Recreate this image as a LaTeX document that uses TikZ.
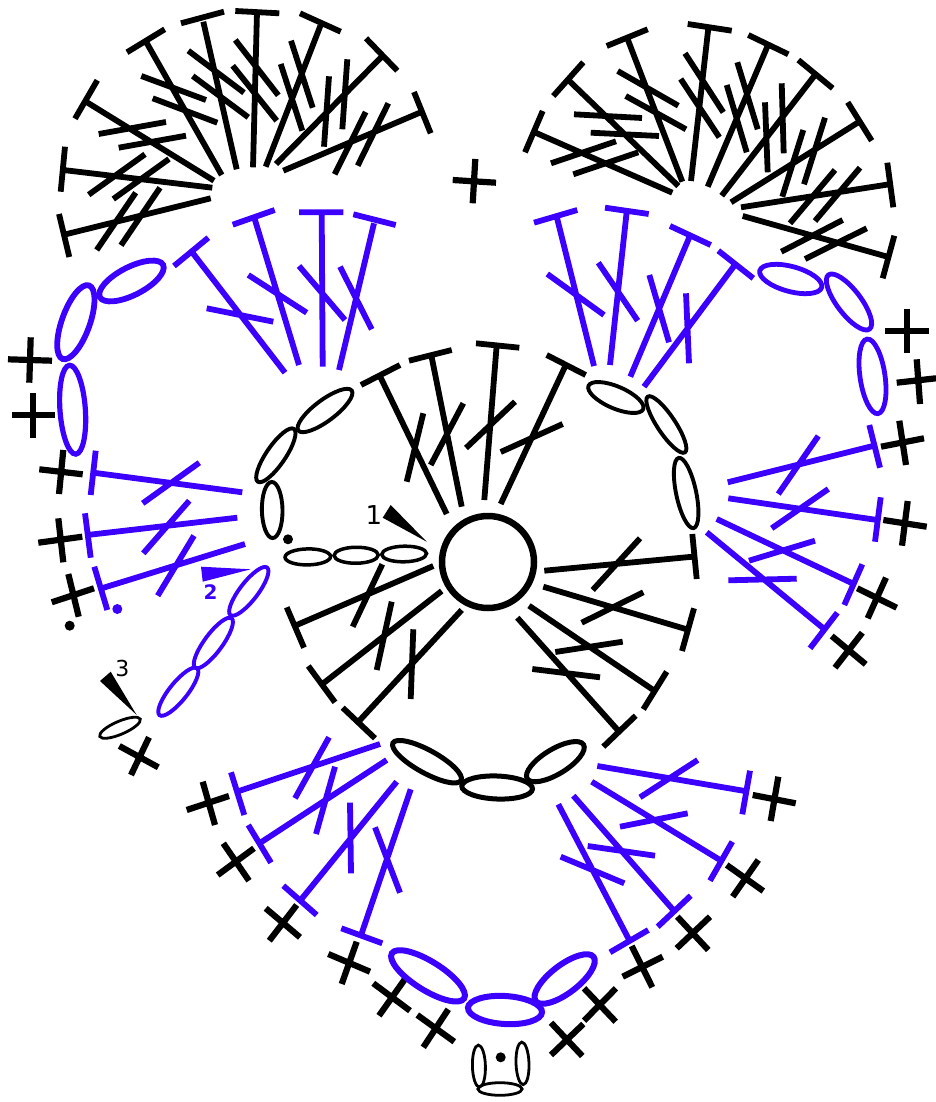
\documentclass[tikz,border=0pt]{standalone}
\usepackage{fontspec}
\setmainfont{DejaVu Sans}
\definecolor{cblue}{RGB}{60,0,255}
\tikzset{
  blk/.style={draw=black,line width=5.8pt},
  blu/.style={draw=cblue,line width=5.8pt},
  cro/.style={draw=black,line width=6.2pt},
  dotk/.style={fill=black,draw=none},
  dotb/.style={fill=cblue,draw=none},
  tag/.style={inner sep=0pt}
}
\newcommand{\Ell}[7]{%
  \pgfmathsetmacro\ecx{(#1+#3)/2}%
  \pgfmathsetmacro\ecy{(#2+#4)/2}%
  \pgfmathsetmacro\eang{atan2(-(#4-#2),(#3-#1))}%
  \pgfmathsetmacro\ea{veclen(#3-#1,#4-#2)/2-#6/2}%
  \draw[draw=#7,line width=#6pt,shift={(\ecx,\ecy)},rotate=\eang] (0,0) circle [x radius=\ea pt,y radius=#5pt];%
}
\begin{document}
\begin{tikzpicture}[x=1pt,y=-1pt]
\useasboundingbox (0,0) rectangle (936,1102);
% top-left fan
\draw[blk] (210.7,198.3)--(65.7,234.3) (59,214)--(69.3,257) (135.7,192.7)--(96.7,250) (160,187.7)--(121,245.3);
\draw[blk] (212.3,187.7)--(63.3,170) (65,146.7)--(60.7,191.7) (145,154.3)--(88.7,194.7) (169,159)--(113.3,199);
\draw[blk] (214,180.7)--(86,101.7) (97.3,80.3)--(75,118.7) (166,122)--(98.7,134) (186,135.7)--(118.7,147.7);
\draw[blk] (221.7,175)--(146,41.7) (164.7,29.3)--(127,52.3) (141.3,76)--(206,100) (152.7,98.3)--(217.3,122.7);
\draw[blk] (236.7,169.3)--(203.3,21.7) (181,23.3)--(224,11.7) (188.3,50.7)--(244,92.7) (192.7,76)--(248.3,117.3);
\draw[blk] (253,167.3)--(257,11.7) (235.3,11)--(279.3,13.3) (235.3,40)--(278.3,95.3) (232.7,65.7)--(276.7,120.7);
\draw[blk] (265.7,166.7)--(320.3,26) (300,13.3)--(340.7,31.7) (291,40.7)--(312.7,107.7) (280.7,64)--(302.3,130.7);
\draw[blk] (276,164)--(381.7,56.7) (366,38.3)--(397.3,70.7) (347.3,59.3)--(342.3,129.3) (329,76.3)--(324,146.7);
\draw[blk] (283.3,170.7)--(420.7,112.3) (414,92)--(430.7,133.3) (388.3,103.3)--(357.7,165.7) (365.7,112)--(334.7,174.3);
% top-left blue fan
\draw[blu] (285,372.7)--(191.7,251.7) (208.3,237.7)--(174,266) (206.7,308.3)--(273.3,321.7);
\draw[blu] (299,365)--(255,220) (274.7,210)--(232.7,224.7) (248.3,275)--(306.7,312.7);
\draw[blu] (322.7,366.7)--(321.7,212.3) (299,212.3)--(343.3,212.3) (299,266)--(345,320);
\draw[blu] (339,370)--(374,223.3) (353.3,214.3)--(395.7,225) (340,266.7)--(371.7,329.3);
% top-right fan
\draw[blk] (672.3,192.7)--(533.3,131.7) (542.7,111)--(525,152.3) (616,141.3)--(551,163.3) (638.3,152.3)--(573.3,174.3);
\draw[blk] (678.3,186)--(568.3,80) (583.3,62.3)--(553.3,96) (574,114.3)--(642,118) (590.7,132.7)--(659,136);
\draw[blk] (682.3,181.7)--(627.3,38.3) (647.7,29.3)--(606.7,46) (617.7,71)--(678.3,105.7) (625.7,96)--(686,129.3);
\draw[blk] (691,181)--(708.3,28.3) (687.7,24)--(731.7,30.7) (685,53.3)--(723.3,112.3) (680.7,79)--(719.3,137.3);
\draw[blk] (707.7,186.7)--(767.3,46.7) (748.3,35)--(788.3,54.3) (737.3,62.3)--(757.7,129.3) (726.7,85)--(746.7,152.3);
\draw[blk] (721.7,195.7)--(815,75) (798.3,60)--(832.7,88.3) (781.7,83.3)--(783.7,153.3) (765,102.3)--(767.7,172.3);
\draw[blk] (731,202.3)--(858.3,122.3) (847.7,102.3)--(871.7,140.7) (825,117.7)--(804,184.3) (803.3,130)--(782.3,196.7);
\draw[blk] (741,207.3)--(889.3,184.3) (887.3,162.7)--(893.3,207.3) (860,167.7)--(815,221) (835,170)--(790,223.3);
\draw[blk] (742.7,216)--(887.3,256.7) (894.3,235.7)--(882.7,278.3) (866.7,228.3)--(805,259) (842.7,220)--(781.3,251.7);
% top-right blue fan
\draw[blu] (594,366)--(556.7,216.7) (534,222.7)--(577.3,210) (547.3,274)--(604,315);
\draw[blu] (610,365)--(626.7,211.7) (605,207.7)--(648.7,214) (598.3,262.7)--(637.7,320.7);
\draw[blu] (630.3,376.7)--(690,235.7) (670,226)--(710.7,245) (649.3,275)--(669,342.3);
\draw[blu] (644,386.7)--(734.3,265.7) (718.3,250.7)--(753.3,278.3) (686,293.3)--(689,363.3);
% left blue fan
\draw[blu] (242.3,492.3)--(93.3,472.7) (95.7,450.7)--(90.7,495) (199.3,462.7)--(142.7,503.3);
\draw[blu] (237.3,517.7)--(87.3,535) (85,513.3)--(90.7,557.7) (189.3,500.7)--(143.3,553.3);
\draw[blu] (245,544)--(101.7,588.3) (94.3,566.7)--(107.3,610) (194,535.7)--(157.7,595.7);
% right blue fan
\draw[blu] (727.7,482.3)--(874,445.7) (869.3,425)--(880,467.7) (818.3,436)--(778.3,494);
\draw[blu] (728.3,498.3)--(877.3,520) (880.7,497.3)--(875,541.7) (828.3,489)--(771.7,528.3);
\draw[blu] (716.7,519)--(852.3,583.3) (862.3,564.3)--(844.3,605) (815,540.7)--(749,560.7);
\draw[blu] (706.7,532.3)--(823.3,628.3) (837.3,612.7)--(810,648.3) (796.7,578.7)--(728.3,580.3);
% centre: top fan
\draw[blk] (446.7,514)--(381,378.3) (400,365)--(361,385) (423.3,413.3)--(406.7,481.7);
\draw[blk] (461.7,506.7)--(431.7,357.3) (409,360.7)--(451.7,350) (463.3,403.3)--(430.7,465);
\draw[blk] (484.3,500)--(496.7,345) (476,343.3)--(519.3,347.7) (515,401.7)--(466,448);
\draw[blk] (500.7,504)--(565,366.7) (546.7,355)--(585.7,375) (562.7,424)--(500.7,452);
% centre: right fan
\draw[blk] (544.3,570.7)--(692.7,556.7) (692.3,534)--(696.7,579) (640,538.3)--(592.7,590);
\draw[blk] (543.3,586.7)--(686.7,629.3) (694,608.3)--(682,651) (643.3,592.3)--(581.7,622.7);
\draw[blk] (529,605.7)--(653.3,690) (666.7,671.7)--(643.3,709.3) (622.7,641.7)--(555.3,652);
\draw[blk] (517.3,617.7)--(617.7,730) (635.7,715.7)--(603.3,746.7) (532.3,669)--(600,677.3);
% centre: lower-left fan
\draw[blk] (433.3,566)--(296.7,625) (286.7,607.3)--(304,647.7) (382.3,564.3)--(352.7,626.7);
\draw[blk] (441.7,591)--(323.3,683.3) (308.3,666)--(335,702.3) (391.7,601.7)--(376.7,670);
\draw[blk] (461.7,610)--(360,720) (342.7,707.7)--(375,738.3) (413.3,629.3)--(410.7,699);
% bottom blue fans
\draw[blu] (380,744)--(239,791) (231,772.3)--(244.3,815) (329,737.3)--(295,798.3);
\draw[blu] (386.7,760)--(261,842.3) (248.3,825)--(271,862.7) (335,766.7)--(316,834);
\draw[blu] (396.7,781.7)--(300.7,900) (283.3,885.7)--(316.7,915) (350,802.7)--(351,873.3);
\draw[blu] (410.7,789.3)--(361.7,933.3) (341.3,928.3)--(382.3,943.3) (375,827.3)--(400,892.7);
\draw[blu] (597.3,766)--(745,791) (750,770.7)--(742.3,814.3) (697.7,760)--(640,797.3);
\draw[blu] (591.7,781.7)--(720,860) (732.3,841.7)--(710,880.7) (687.7,813.3)--(620,826.7);
\draw[blu] (573.3,795.7)--(673.3,910) (690.7,895.7)--(657.7,926.7) (655,855.7)--(587.7,846);
\draw[blu] (558.3,804.3)--(628.3,938.3) (648.3,930)--(610,952.3) (560.7,856.7)--(624.3,883.3);
% crosses
\draw[cro] (452.7,180)--(496,182.7) (475.3,159)--(472.7,203.3);
\draw[cro] (8,359.3)--(52,360.7) (30.7,337.3)--(29.3,382.7);
\draw[cro] (11.7,415)--(55.3,415) (33.3,393.3)--(33.3,437.7);
\draw[cro] (39.3,469.3)--(82.7,474.3) (63.3,450)--(59,494);
\draw[cro] (38.3,542.7)--(82.3,536.7) (58.3,518.3)--(63.3,562.3);
\draw[cro] (51.7,602.3)--(94,588.3) (68.3,574)--(78.7,616.7);
\draw[cro] (119.3,746)--(158.3,767.3) (149,737.3)--(131,775);
\draw[cro] (885,330.7)--(929.3,330.7) (907.3,308.7)--(907.3,353.3);
\draw[cro] (896.7,382.7)--(936,378.3) (916.7,359.3)--(920,404);
\draw[cro] (881,446.7)--(924,438.3) (899.3,420.7)--(906,465);
\draw[cro] (883.3,520)--(926.7,526.7) (907.7,501)--(902,545.7);
\draw[cro] (857.3,588.3)--(896.7,607.7) (886,577.7)--(867.7,618.3);
\draw[cro] (831.7,636)--(865.7,664.3) (862.3,632.7)--(835,667.7);
\draw[cro] (186.7,810)--(229,796) (202.7,781.7)--(215,825);
\draw[cro] (217.7,875)--(254,848.3) (223.3,843.3)--(249,880.7);
\draw[cro] (265.7,908.3)--(300,937.3) (269.3,940.7)--(296.7,905);
\draw[cro] (328.3,954)--(370,971.7) (356.7,941.7)--(341.7,984);
\draw[cro] (373.3,983.3)--(410,1010.7) (405,979)--(379,1015.7);
\draw[cro] (417.3,1015)--(454.3,1041.7) (448.3,1009.3)--(423.3,1047.3);
\draw[cro] (752.7,795)--(795.7,803.3) (778.3,776.7)--(770.7,821);
\draw[cro] (726.7,865)--(763.3,891) (758.3,860)--(732.7,896.7);
\draw[cro] (677.3,916.7)--(708.3,950) (710,916.7)--(676.7,948.3);
\draw[cro] (622.7,976.7)--(662.7,956.7) (631.7,946)--(652.3,987.3);
\draw[cro] (584,988.3)--(615.7,1021.7) (616,988.3)--(584,1020.7);
\draw[cro] (551,1022.7)--(582.3,1056) (583.3,1024)--(551,1055);
% centre ring
\node[circle,draw=black,line width=6.5pt,minimum size=92pt,inner sep=0pt,outer sep=0pt] (ring) at (488,562) {};
% blue chain ellipses
\Ell{97.3}{298.5}{165.7}{263.5}{14}{5.8}{cblue}
\Ell{90}{282.7}{61.7}{361.7}{14}{5.8}{cblue}
\Ell{69.3}{362.7}{76}{456.7}{12.7}{5.2}{cblue}
\Ell{757.5}{270}{824}{288}{12.5}{4.8}{cblue}
\Ell{827}{273}{871}{331}{12}{4.8}{cblue}
\Ell{866.7}{336.7}{878.3}{416}{12.5}{4.8}{cblue}
\Ell{268.3}{566}{229.3}{616.7}{9}{3.9}{cblue}
\Ell{232.7}{616.7}{194}{669.3}{9}{3.9}{cblue}
\Ell{198.3}{666.7}{158.3}{716.7}{9}{3.9}{cblue}
\Ell{389.3}{951.7}{466.7}{1000}{14.4}{6}{cblue}
\Ell{465}{1007.5}{545}{1012.5}{14}{6}{cblue}
\Ell{533.3}{1003}{596}{955}{14}{6}{cblue}
% black chain ellipses
\Ell{353.3}{389.3}{296.7}{431.7}{10.5}{3.9}{black}
\Ell{295}{427.3}{256.7}{483.3}{9.5}{3.9}{black}
\Ell{271.7}{480}{272.7}{540}{10.3}{3.9}{black}
\Ell{283.3}{557.3}{332.3}{556.5}{8}{3.5}{black}
\Ell{332.3}{555.5}{380}{555}{8}{3.5}{black}
\Ell{380}{554.5}{428.3}{553.5}{7.8}{3.5}{black}
\Ell{586.7}{385}{645}{410}{11}{3.9}{black}
\Ell{646.7}{395}{686}{454}{9}{3.9}{black}
\Ell{678.3}{456}{694}{530}{10}{3.9}{black}
\Ell{390.7}{741.7}{463.3}{781.7}{11.4}{5}{black}
\Ell{459.3}{786}{535}{789}{11.5}{5}{black}
\Ell{525}{780}{585.7}{743.3}{12.5}{5}{black}
\Ell{98.5}{737}{141.5}{718.5}{6.5}{2.8}{black}
\Ell{478.3}{1043.7}{479.5}{1088.5}{6.5}{2.8}{black}
\Ell{521.7}{1040.7}{523.3}{1086}{6.5}{2.8}{black}
\Ell{476.5}{1089}{523.5}{1089}{6.3}{2.8}{black}
% dots
\fill[dotk] (288,539.3) circle [radius=5pt];
\fill[dotb] (117.3,609) circle [radius=5pt];
\fill[dotk] (69.7,625.7) circle [radius=5pt];
\fill[dotk] (500.7,1057.3) circle [radius=5pt];
% pointers and labels
\fill[black] (390.7,505)--(382.7,517.7)--(426.7,541.7)--cycle;
\fill[cblue] (201,566.7)--(202.7,581.7)--(250.7,569.3)--cycle;
\fill[black] (110.7,671.7)--(100,681)--(136.7,715)--cycle;
\node[tag,font=\fontsize{26pt}{26pt}\selectfont] (lone) at (374,515.5) {1};
\node[tag,font=\fontsize{20pt}{20pt}\selectfont\bfseries,text=cblue] (ltwo) at (210.7,591.7) {2};
\node[tag,font=\fontsize{22pt}{22pt}\selectfont] (lthree) at (122.3,668.3) {3};
\end{tikzpicture}
\end{document}
